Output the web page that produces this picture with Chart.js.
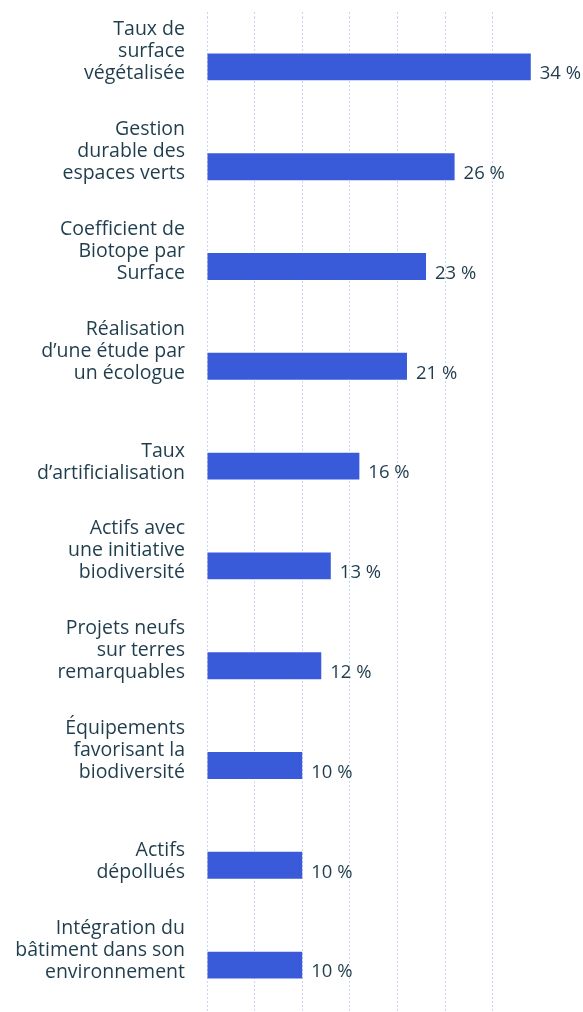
<!DOCTYPE html>
<html>
<head>
<meta charset="utf-8">
<script src="https://cdn.jsdelivr.net/npm/chart.js@4"></script>
<style>
  html, body { margin: 0; padding: 0; background: #fff; overflow: hidden; }
  #wrap { position: relative; width: 583px; height: 1015px; }
</style>
</head>
<body>
<div id="wrap"><canvas id="myChart"></canvas></div>
<script>
var categories = [
    ["Taux de", "surface", "végétalisée"],
    ["Gestion", "durable des", "espaces verts"],
    ["Coefficient de", "Biotope par", "Surface"],
    ["Réalisation", "d’une étude par", "un écologue"],
    ["Taux", "d’artificialisation"],
    ["Actifs avec", "une initiative", "biodiversité"],
    ["Projets neufs", "sur terres", "remarquables"],
    ["Équipements", "favorisant la", "biodiversité"],
    ["Actifs", "dépollués"],
    ["Intégration du", "bâtiment dans son", "environnement"]
];
var values = [34, 26, 23, 21, 16, 13, 12, 10, 10, 10];

var textColor = '#1f3d4d';
var fontFamily = "'Open Sans', sans-serif";

// labels "xx %" just after each bar
var valueLabels = {
    id: 'valueLabels',
    afterDatasetsDraw: function (chart) {
        var ctx = chart.ctx;
        var meta = chart.getDatasetMeta(0);
        ctx.save();
        ctx.font = '18.5px ' + fontFamily;
        ctx.fillStyle = textColor;
        ctx.textAlign = 'left';
        ctx.textBaseline = 'middle';
        meta.data.forEach(function (bar, i) {
            ctx.fillText(values[i] + ' %', bar.x + 9, bar.y + 7);
        });
        ctx.restore();
    }
};

var ctx = document.getElementById('myChart').getContext('2d');
var myChart = new Chart(ctx, {
    type: 'bar',
    data: {
        labels: categories,
        datasets: [{
            data: values,
            backgroundColor: '#3a5bd9',
            barPercentage: 0.27,
            categoryPercentage: 1
        }]
    },
    plugins: [valueLabels],
    options: {
        indexAxis: 'y',
        responsive: true,
        maintainAspectRatio: false,
        animation: false,
        layout: {
            padding: { top: 12, right: 42.7, left: 0, bottom: 0 }
        },
        plugins: {
            legend: { display: false },
            tooltip: { enabled: false }
        },
        scales: {
            x: {
                position: 'top',
                min: 0,
                max: 35,
                border: { display: false, dash: [2, 2] },
                ticks: { display: false, stepSize: 5 },
                grid: {
                    drawTicks: true,
                    tickLength: 5,
                    lineWidth: 1,
                    tickBorderDash: [2, 2],
                    color: function (c) {
                        return c.tick && c.tick.value === 35 ? 'rgba(0,0,0,0)' : '#ccd3f5';
                    }
                }
            },
            y: {
                border: { display: false },
                grid: { display: false, drawTicks: false },
                afterFit: function (scale) {
                    scale.width = 207;
                    scale.paddingTop = 0;
                    scale.paddingBottom = 0;
                },
                ticks: {
                    color: textColor,
                    padding: 22,
                    labelOffset: -15,
                    font: { family: fontFamily, size: 19.5, lineHeight: '22px' },
                    callback: function (value, index) {
                        var lbl = categories[index];
                        // 2-line labels get an empty first line so the last line sits by the bar
                        return lbl.length === 2 ? [''].concat(lbl) : lbl;
                    }
                }
            }
        }
    }
});
</script>
</body>
</html>
